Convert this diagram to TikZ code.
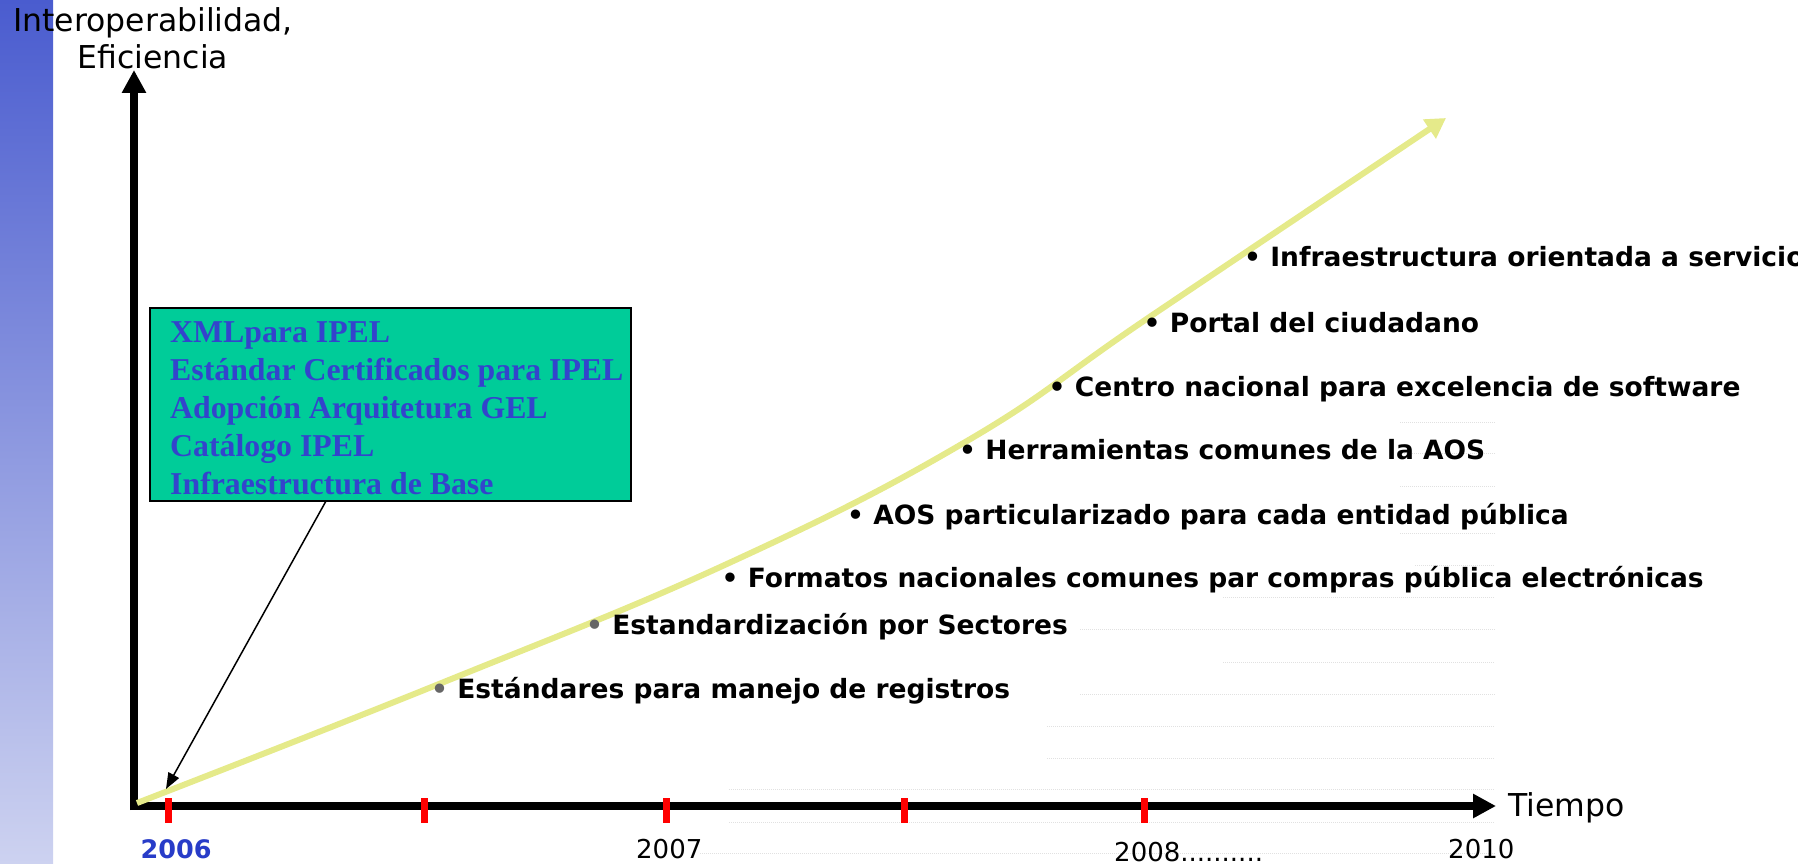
\documentclass[tikz,border=0pt]{standalone}
\usepackage{fontspec}
\setmainfont{DejaVu Sans}
\newfontfamily\boxserif{Liberation Serif}
\usetikzlibrary{arrows.meta}
\definecolor{curvecol}{RGB}{229,234,138}
\definecolor{boxgreen}{RGB}{0,204,153}
\definecolor{boxblue}{RGB}{51,68,204}
\definecolor{yearblue}{RGB}{40,60,200}
\definecolor{bartop}{RGB}{74,92,207}
\definecolor{barbot}{RGB}{205,210,240}
\definecolor{faintgray}{RGB}{225,225,225}
\begin{document}
\begin{tikzpicture}[x=1pt,y=-1pt,
  item/.style={anchor=base west, inner sep=0pt, font=\fontsize{26.5}{31}\selectfont\bfseries},
  yearlab/.style={anchor=base west, inner sep=0pt, font=\fontsize{26}{30}\selectfont},
  axisline/.style={line width=8pt, -{Triangle[length=23pt,width=23pt]}},
  ticklin/.style={draw=red, line width=7pt},
  faint/.style={draw=faintgray, line width=1pt, dash pattern=on 1pt off 1pt},
  growth/.style={draw=curvecol, line width=6pt, -{Triangle[length=20pt,width=22pt]}},
  infobox/.style={draw=black, line width=2pt, fill=boxgreen, minimum width=481pt, minimum height=193pt, inner sep=0pt},
  pointer/.style={line width=1.5pt, -{Triangle[length=16pt,width=12pt]}}]
\useasboundingbox (0,0) rectangle (1798,864);
% left bar
\shade[top color=bartop, bottom color=barbot] (0,0) rectangle (53,864);
% faint dotted lines
\foreach \yy/\xa in {422/1400,453/1400,486/1400,533/1400,565/1415,597/1223,629/1080,662/1223,694/1080,726/1047,758/1047,789/729,822/729,853/700}
  \draw[faint] (\xa,\yy) -- (1495,\yy);
% axes
\coordinate (corner) at (134,810);
\coordinate (ytip) at (134,70);
\coordinate (xstart) at (130,806);
\coordinate (xtip) at (1496,806);
\draw[axisline] (corner) -- (ytip);
\draw[axisline] (xstart) -- (xtip);
% ticks
\foreach \tx in {168,424,666,904,1144}
  \draw[ticklin] (\tx,798) -- (\tx,823);
% growth curve
\draw[growth] plot[smooth, tension=0.7] coordinates {(137,803) (439,684) (729,563) (967,441) (1151,316) (1446,118)};
% axis labels
\node[anchor=base, inner sep=0pt, font=\fontsize{31.5}{37}\selectfont] (ylab) at (153,32)
  {\begin{tabular}[t]{@{}c@{}}Interoperabilidad,\\Eficiencia\end{tabular}};
\node[anchor=base west, inner sep=0pt, font=\fontsize{31.5}{37}\selectfont] (tiempo) at (1508,816) {Tiempo};
% years
\node[yearlab, font=\fontsize{25.5}{30}\selectfont\bfseries, text=yearblue] (y2006) at (140.5,858) {2006};
\node[yearlab] (y2007) at (636,858) {2007};
\node[yearlab] (y2008) at (1114,861) {2008..........};
\node[yearlab] (y2010) at (1448,858) {2010};
% items
\node[item] (i1) at (431,698) {{\color{black!60}•} Estándares para manejo de registros};
\node[item] (i2) at (586,634) {{\color{black!60}•} Estandardización por Sectores};
\node[item] (i3) at (721.5,587) {• Formatos nacionales comunes par compras pública electrónicas};
\node[item] (i4) at (847,524) {• AOS particularizado para cada entidad pública};
\node[item] (i5) at (959,459) {• Herramientas comunes de la AOS};
\node[item] (i6) at (1048.5,396) {• Centro nacional para excelencia de software};
\node[item] (i7) at (1143.5,332) {• Portal del ciudadano};
\node[item] (i8) at (1244,266) {• Infraestructura orientada a servicios};
% box
\node[infobox] (box) at (390.5,404.5) {};
\node[anchor=base west, inner sep=0pt, text=boxblue, font=\boxserif\bfseries\fontsize{31.8}{38}\selectfont] (boxtext) at (170,342)
  {\begin{tabular}[t]{@{}l@{}}XMLpara IPEL\\Estándar Certificados para IPEL\\Adopción Arquitetura GEL\\Catálogo IPEL\\Infraestructura de Base\end{tabular}};
\coordinate (pstart) at (326,501);
\coordinate (pend) at (166,789);
\draw[pointer] (pstart) -- (pend);
\end{tikzpicture}
\end{document}
